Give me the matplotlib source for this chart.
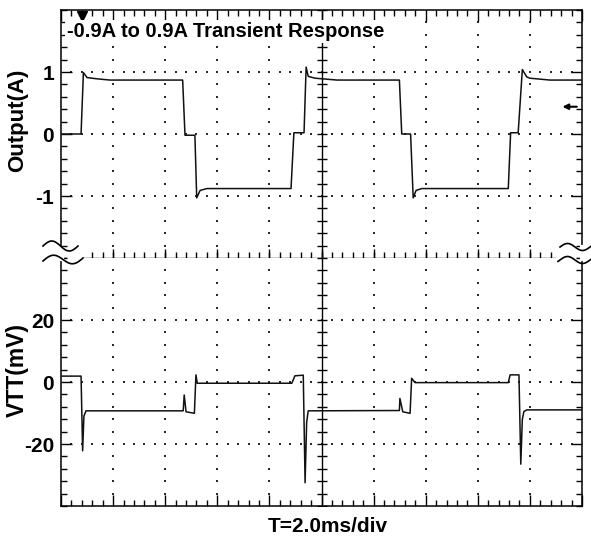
import numpy as np
import matplotlib
matplotlib.use("Agg")
import matplotlib.pyplot as plt
from matplotlib.lines import Line2D

plt.rcParams['font.family'] = ['Liberation Sans', 'DejaVu Sans']
plt.rcParams['font.weight'] = 'bold'

# scope trace (2.0 ms/div, 10 div)
t_out = [0, 0.77, 0.86, 1.0, 1.38, 1.88, 4.67, 4.76, 5.14, 5.21, 5.34, 5.60,
         8.83, 8.94, 9.33, 9.41, 9.49, 9.75, 10.6, 12.99, 13.08, 13.42, 13.52,
         13.63, 13.85, 17.17, 17.26, 17.55, 17.71, 17.88, 18.0, 18.77, 20.0]
out_a = [0, 0, 0.99, 0.91, 0.89, 0.87, 0.87, -0.02, -0.02, -1.03, -0.91, -0.88,
         -0.88, 0.02, 0.02, 1.08, 0.93, 0.90, 0.87, 0.87, 0.0, 0.0, -1.03,
         -0.91, -0.88, -0.88, 0.02, 0.02, 1.04, 0.92, 0.90, 0.87, 0.87]

t_vtt = [0, 0.77, 0.83, 0.88, 0.96, 4.69, 4.73, 4.80, 5.12, 5.18, 5.23,
         8.86, 8.98, 9.30, 9.37, 9.43, 9.49, 12.99, 13.01, 13.12, 13.40, 13.46,
         13.59, 17.17, 17.24, 17.58, 17.65, 17.71, 17.77, 17.88, 20.0]
vtt_mv = [1.9, 1.9, -22.2, -11, -9.3, -9.3, -4.2, -9.6, -10.1, 2.3, -0.4,
          -0.4, 2.0, 2.2, -32.5, -13, -9.3, -9.2, -5.3, -9.6, -10.1, 1.2,
          -0.2, -0.2, 2.3, 2.3, -26.5, -12, -9.5, -9.0, -9.0]

out_ticks = [-1, 0, 1]
vtt_ticks = [-20, 0, 20]

W, H = 591, 536
fig = plt.figure(figsize=(W / 100, H / 100), dpi=100)
ax1 = fig.add_axes([61 / W, (H - 258) / H, 521 / W, 248 / H])
ax2 = fig.add_axes([61 / W, (H - 506) / H, 521 / W, 248 / H])

x_minor = np.arange(0, 20.01, 0.4)
x_major = np.arange(0, 20.01, 2)
grid_x = [2, 4, 6, 8, 12, 14, 16, 18]

for ax, lim, yt, step in [(ax1, 2, out_ticks, 0.2), (ax2, 40, vtt_ticks, 4)]:
    ax.set_xlim(0, 20)
    ax.set_ylim(-lim, lim)
    ax.set_xticks(x_major)
    ax.set_xticks(x_minor, minor=True)
    y_minor = np.arange(-lim, lim + step / 2, step)
    ax.set_yticks(yt)
    ax.set_yticklabels([str(v) for v in yt])
    ax.set_yticks(y_minor, minor=True)
    ax.tick_params(which='both', direction='in', top=True, right=True,
                   labelbottom=False, width=1, color='black')
    ax.tick_params(which='major', length=8)
    ax.tick_params(which='minor', length=4.5)
    ax.tick_params(axis='y', labelsize=15, pad=5)
    for s in ax.spines.values():
        s.set_linewidth(1.1)

    # dotted graticule
    gx, gy = np.meshgrid(grid_x, y_minor[1:-1])
    ax.scatter(gx.ravel(), gy.ravel(), s=2, marker='s', color='#2a2a2a', linewidths=0)
    gx, gy = np.meshgrid(x_minor[1:-1], yt)
    ax.scatter(gx.ravel(), gy.ravel(), s=2, marker='s', color='#2a2a2a', linewidths=0)

    # centre vertical with ticks
    ax.axvline(10, color='black', lw=1)
    ax.plot([10] * len(y_minor), y_minor, ls='none', marker='_', ms=7.5, mew=1,
            color='black')

ax1.spines['bottom'].set_visible(False)
ax1.tick_params(which='both', bottom=False)
ax2.spines['top'].set_visible(False)
ax2.tick_params(which='both', top=False)

# centre horizontal line with ticks (broken at both ends)
ax1.plot([0.85, 18.95], [-2, -2], color='black', lw=1, clip_on=False)
cx_min = [v for v in x_minor if 1.0 < v < 19.0]
ax1.plot(cx_min, [-2] * len(cx_min), ls='none', marker='|', ms=8.5, mew=1,
         color='black', clip_on=False)
cx_maj = [v for v in x_major if 1.0 < v < 19.0]
ax1.plot(cx_maj, [-2] * len(cx_maj), ls='none', marker='|', ms=13, mew=1,
         color='black', clip_on=False)

# traces
ax1.plot(t_out, out_a, color='#111111', lw=1.1, zorder=4)
ax2.plot(t_vtt, vtt_mv, color='#111111', lw=1.1, zorder=4)

# trigger marker and level arrow
ax1.plot([0.8], [1.91], marker='v', ms=7, color='black', clip_on=False)
ax1.annotate('', xy=(19.25, 0.44), xytext=(19.8, 0.44),
             arrowprops=dict(arrowstyle='-|>', color='black', lw=1.5,
                             mutation_scale=8, shrinkA=0, shrinkB=0))

ax1.text(0.0115, 0.891, '-0.9A to 0.9A Transient Response', transform=ax1.transAxes,
         fontsize=14.5, fontweight='bold', va='baseline', zorder=5,
         bbox=dict(facecolor='white', edgecolor='none', pad=1.5))

fig.text(18 / W, 1 - 120 / H, 'Output(A)', fontsize=16, fontweight='bold',
         rotation=90, ha='center', va='center')
fig.text(17 / W, 1 - 370 / H, 'VTT(mV)', fontsize=16.5, fontweight='bold',
         rotation=90, ha='center', va='center')

fig.text(328 / W, (H - 531.7) / H, 'T=2.0ms/div', fontsize=15, fontweight='bold',
         ha='center', va='baseline')


# axis-break squiggles (pixel coords)
def px_line(xs, ys, **kw):
    fig.add_artist(Line2D(np.asarray(xs) / W, 1 - np.asarray(ys) / H, **kw))


px_line([61.5, 61.5], [249, 259], color='white', lw=3)
px_line([581.5, 581.5], [247, 259], color='white', lw=3)
xx = np.linspace(43, 78, 40)
px_line(xx, 246 - 5 * np.sin(2 * np.pi * (xx - 43) / 35), color='black', lw=1.2)
xx = np.linspace(43, 83, 40)
px_line(xx, 261 - 5 * np.sin(2 * np.pi * (xx - 43) / 40) - (xx - 43) / 40 * 3,
        color='black', lw=1.2)
xx = np.linspace(560, 591, 40)
px_line(xx, 247 - 3.5 * np.sin(2 * np.pi * (xx - 560) / 30), color='black', lw=1.2)
xx = np.linspace(558, 591, 40)
px_line(xx, 260 - 3.5 * np.sin(2 * np.pi * (xx - 560) / 30), color='black', lw=1.2)

fig.savefig('out.png', dpi=100)
